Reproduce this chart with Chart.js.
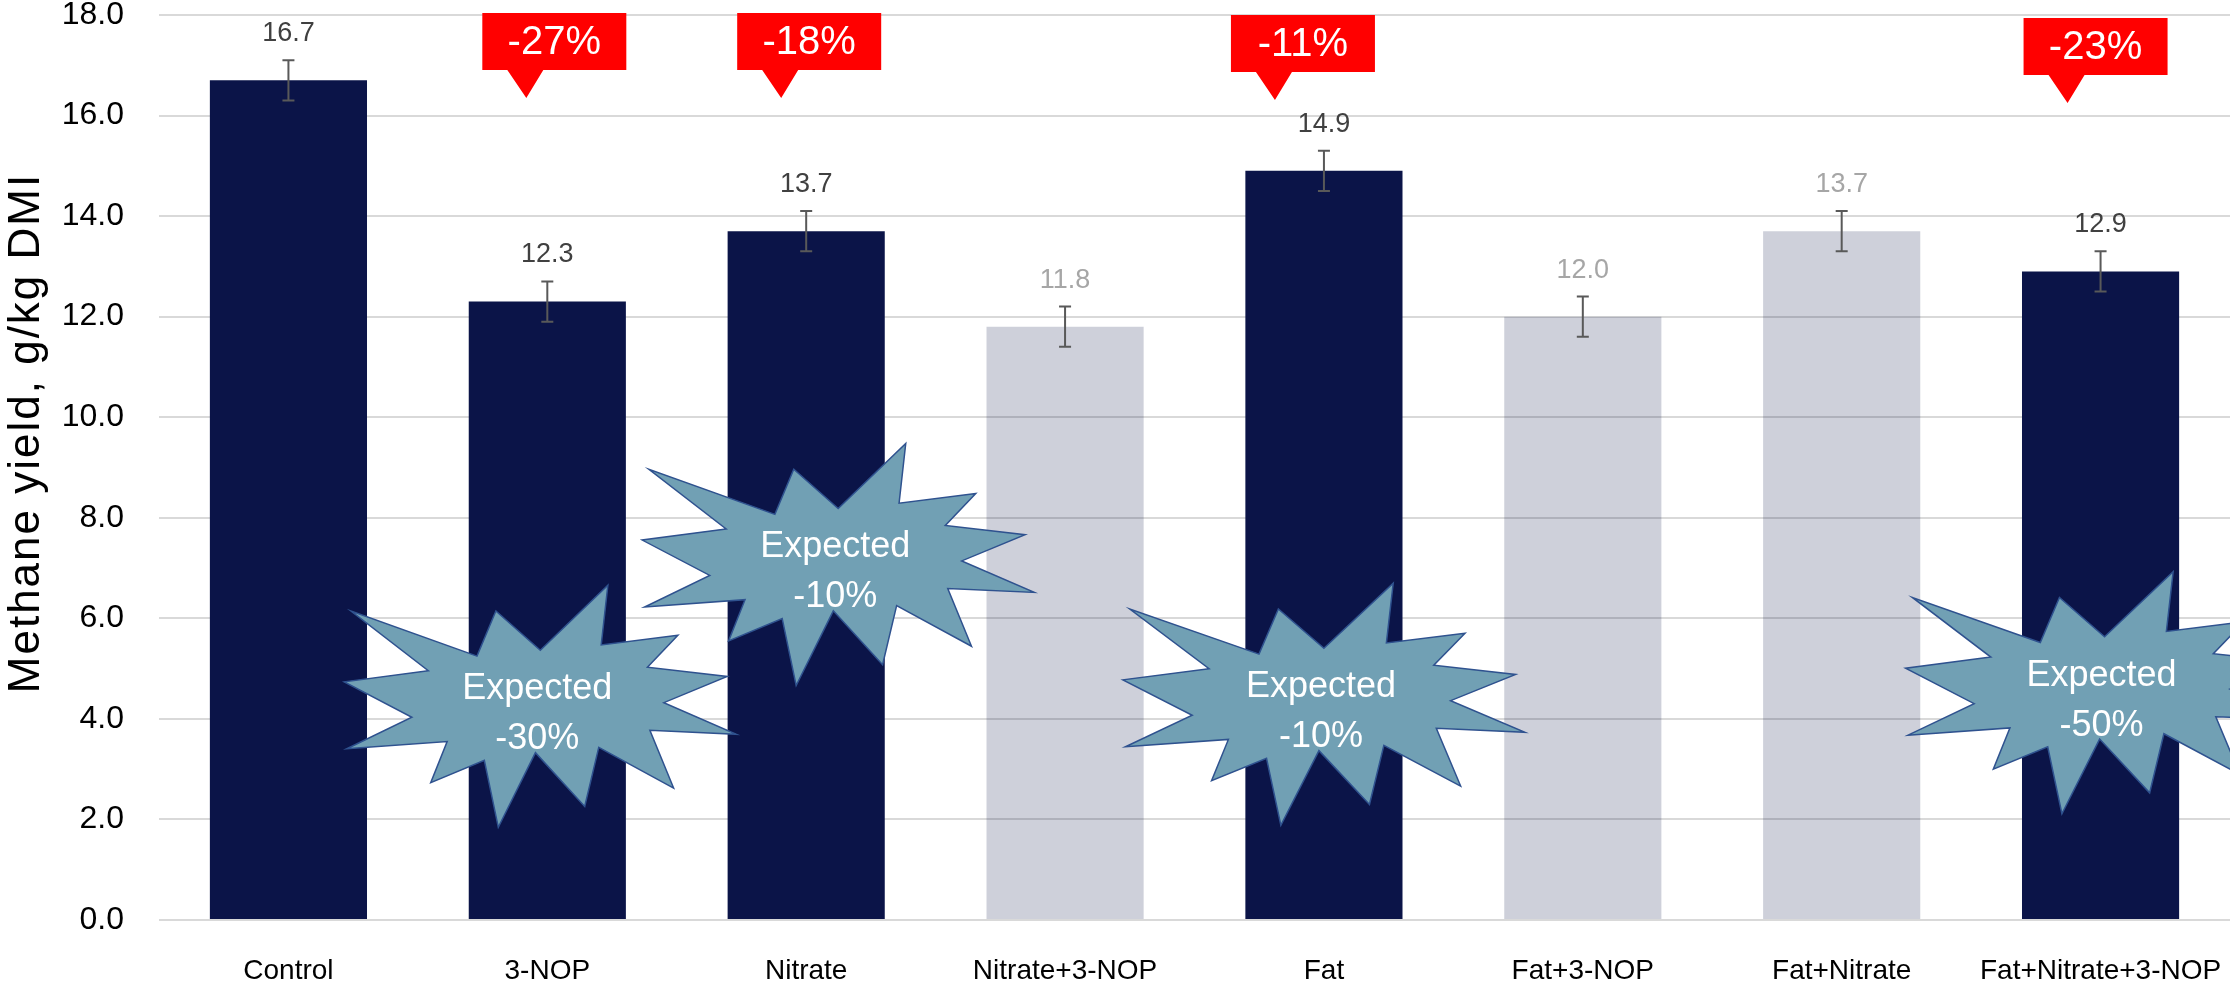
<!DOCTYPE html>
<html lang="en">
<head>
    <meta charset="UTF-8">
    <title>Methane yield</title>
    <script src="https://cdn.jsdelivr.net/npm/chart.js@4"></script>
    <style>
        html, body { margin: 0; padding: 0; background: #fff; }
        canvas { display: block; }
    </style>
</head>
<body>
    <canvas id="methane-chart" width="2230" height="982"></canvas>

    <script>
        // chart data
        const categories = ['Control', '3-NOP', 'Nitrate', 'Nitrate+3-NOP', 'Fat', 'Fat+3-NOP', 'Fat+Nitrate', 'Fat+Nitrate+3-NOP'];
        const methaneYield = [16.7, 12.3, 13.7, 11.8, 14.9, 12.0, 13.7, 12.9];
        const stdError = [0.4, 0.4, 0.4, 0.4, 0.4, 0.4, 0.4, 0.4];
        const highlighted = [true, true, true, false, true, false, false, true];
        const yTicks = [0, 2, 4, 6, 8, 10, 12, 14, 16, 18];

        // observed change callouts (red)
        const changeLabels = ['-27%', '-18%', '-11%', '-23%'];
        const changeCategory = [1, 2, 4, 7];

        // expected change starbursts
        const expectedLabels = ['-30%', '-10%', '-10%', '-50%'];
        const expectedCategory = [1, 2, 4, 7];
        const expectedAt = [4.25, 7.07, 4.29, 4.52];

        // placement tweaks for the overlays (pixels)
        const calloutShift = [[-65, -2], [-69, -2], [-93, 0], [-77, 3]];
        const burstShift = [-7, 32, 0, 4];
        const burstWidth = [392, 392, 402, 398];

        const DARK = 'rgb(11,20,72)';
        const LIGHT = 'rgba(11,20,72,0.2)';
        const FONT = '"Liberation Sans", Arial, sans-serif';

        // PowerPoint "explosion 1" outline, 21600 units square
        const SEAL = [[10800,5800],[14522,0],[14155,5325],[18380,4457],[16702,7315],[21097,8137],
            [17607,10475],[21600,13290],[16837,12942],[18145,18095],[14020,14457],[13247,19737],
            [10532,14935],[8485,21600],[7715,15627],[4762,17617],[5667,13937],[135,14587],
            [3722,11775],[0,8615],[4627,7617],[370,2295],[7312,6320],[8352,2295]];

        function drawBurst(ctx, cx, cy, w, h, label) {
            const left = cx - w / 2, top = cy - h / 2;
            ctx.beginPath();
            SEAL.forEach(([px, py], k) => {
                const X = left + px / 21600 * w, Y = top + py / 21600 * h;
                if (k) ctx.lineTo(X, Y); else ctx.moveTo(X, Y);
            });
            ctx.closePath();
            ctx.fillStyle = '#71A0B4';
            ctx.fill();
            ctx.strokeStyle = '#2F528F';
            ctx.lineWidth = 1.5;
            ctx.stroke();
            ctx.fillStyle = '#fff';
            ctx.font = '36px ' + FONT;
            ctx.textAlign = 'center';
            ctx.textBaseline = 'middle';
            ctx.fillText('Expected', cx - 3, top + 104);
            ctx.fillText(label, cx - 3, top + 154);
        }

        function drawCallout(ctx, left, top, text) {
            const w = 144, h = 57;
            ctx.fillStyle = '#FF0000';
            ctx.beginPath();
            ctx.moveTo(left, top);
            ctx.lineTo(left + w, top);
            ctx.lineTo(left + w, top + h);
            ctx.lineTo(left + 61, top + h);
            ctx.lineTo(left + 44, top + h + 28);
            ctx.lineTo(left + 25, top + h);
            ctx.lineTo(left, top + h);
            ctx.closePath();
            ctx.fill();
            ctx.fillStyle = '#fff';
            ctx.font = '40px ' + FONT;
            ctx.textAlign = 'center';
            ctx.textBaseline = 'middle';
            ctx.fillText(text, left + w / 2, top + h / 2 + 1);
        }

        const overlays = {
            id: 'overlays',
            afterDatasetsDraw(chart) {
                const ctx = chart.ctx;
                const y = chart.scales.y;
                ctx.save();
                chart.getDatasetMeta(0).data.forEach((bar, i) => {
                    const hi = y.getPixelForValue(methaneYield[i] + stdError[i]);
                    const lo = y.getPixelForValue(methaneYield[i] - stdError[i]);
                    ctx.strokeStyle = '#595959';
                    ctx.lineWidth = 2;
                    ctx.beginPath();
                    ctx.moveTo(bar.x, hi); ctx.lineTo(bar.x, lo);
                    ctx.moveTo(bar.x - 6, hi); ctx.lineTo(bar.x + 6, hi);
                    ctx.moveTo(bar.x - 6, lo); ctx.lineTo(bar.x + 6, lo);
                    ctx.stroke();
                    ctx.fillStyle = highlighted[i] ? '#404040' : '#a6a6a6';
                    ctx.font = '27px ' + FONT;
                    ctx.textAlign = 'center';
                    ctx.textBaseline = 'alphabetic';
                    ctx.fillText(methaneYield[i].toFixed(1), bar.x, hi - 19);
                });
                ctx.restore();
            },
            afterDraw(chart) {
                const ctx = chart.ctx;
                const x = chart.scales.x, y = chart.scales.y;
                ctx.save();
                expectedLabels.forEach((lab, k) => {
                    const cx = x.getPixelForValue(expectedCategory[k]) + burstShift[k];
                    const cy = y.getPixelForValue(expectedAt[k]);
                    drawBurst(ctx, cx, cy, burstWidth[k], 242, lab);
                });
                changeLabels.forEach((lab, k) => {
                    const left = x.getPixelForValue(changeCategory[k]) + calloutShift[k][0];
                    const top = y.getPixelForValue(yTicks[yTicks.length - 1]) + calloutShift[k][1];
                    drawCallout(ctx, left, top, lab);
                });
                // y axis title
                ctx.translate(39, 433);
                ctx.rotate(-Math.PI / 2);
                ctx.fillStyle = '#000';
                ctx.font = '44px ' + FONT;
                ctx.letterSpacing = '2px';
                ctx.textAlign = 'center';
                ctx.textBaseline = 'alphabetic';
                ctx.fillText('Methane yield, g/kg DMI', 0, 0);
                ctx.restore();
            }
        };

        Chart.defaults.font.family = FONT;

        new Chart(document.getElementById('methane-chart'), {
            type: 'bar',
            data: {
                labels: categories,
                datasets: [{
                    data: methaneYield,
                    backgroundColor: highlighted.map(h => h ? DARK : LIGHT),
                    borderWidth: 0,
                    barPercentage: 0.607,
                    categoryPercentage: 1
                }]
            },
            options: {
                responsive: false,
                animation: false,
                layout: { padding: { top: 15, right: 0, bottom: 0, left: 0 } },
                plugins: { legend: { display: false }, tooltip: { enabled: false } },
                scales: {
                    x: {
                        grid: { display: false },
                        border: { display: false },
                        ticks: { font: { size: 28 }, color: '#000', padding: 26, maxRotation: 0, autoSkip: false },
                        afterFit(s) { s.height = 62; s.paddingLeft = 0; s.paddingRight = 0; }
                    },
                    y: {
                        min: yTicks[0],
                        max: yTicks[yTicks.length - 1],
                        afterBuildTicks(s) { s.ticks = yTicks.map(v => ({ value: v })); },
                        ticks: { font: { size: 32 }, color: '#000', padding: 35, callback: v => v.toFixed(1) },
                        grid: { color: '#D9D9D9', lineWidth: 2, drawTicks: false },
                        border: { display: false },
                        afterFit(s) { s.width = 159; s.paddingTop = 0; s.paddingBottom = 0; }
                    }
                }
            },
            plugins: [overlays]
        });
    </script>
</body>
</html>
